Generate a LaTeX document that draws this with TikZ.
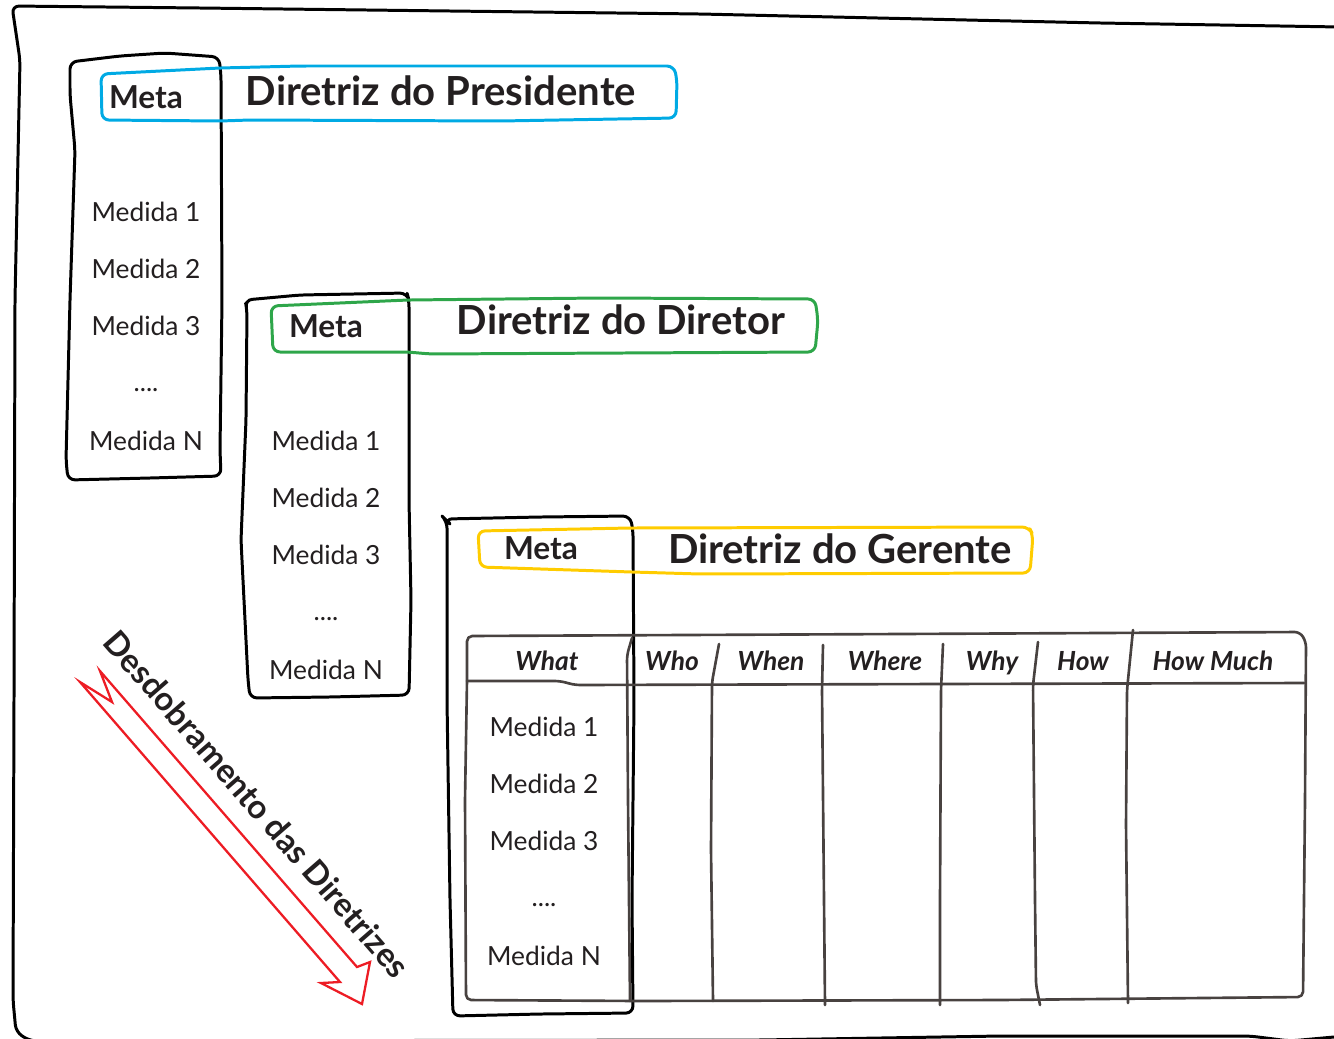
\documentclass[tikz,border=0pt]{standalone}
\usepackage{fontspec}
\setmainfont{Lato}
\definecolor{pres}{RGB}{0,170,228}
\definecolor{dir}{RGB}{46,166,74}
\definecolor{ger}{RGB}{255,204,0}
\definecolor{seta}{RGB}{237,28,36}
\definecolor{ink}{RGB}{35,31,32}
\definecolor{grade}{RGB}{72,66,64}

\begin{document}
\begin{tikzpicture}[x=0.02cm,y=-0.02cm,line cap=round,line join=round,
  sketch/.style={draw=black,line width=1.7pt,rounded corners=4pt},
  grade/.style={draw=grade,line width=1.5pt,rounded corners=3pt},
  medida/.style={font=\fontsize{15}{18}\selectfont,text=ink},
  meta/.style={font=\fontsize{18}{21}\selectfont\bfseries,text=ink},
  titulo/.style={font=\fontsize{22.8}{26}\selectfont\bfseries,text=ink},
  coluna/.style={font=\fontsize{15}{18}\selectfont\bfseries\itshape,text=ink,anchor=base},
  desdob/.style={font=\fontsize{18.8}{22}\selectfont\bfseries,text=ink,rotate=-49}]

\useasboundingbox (0,0) rectangle (1334,1038);

% moldura
\draw[sketch] (1340,27) -- (1100,23) -- (700,14) -- (200,8) -- (12,6) -- (20,60) -- (15,300)
  -- (14,700) -- (13,1000) -- (16,1032) -- (30,1041) -- (760,1040) -- (1000,1036) -- (1250,1036)
  -- (1290,1041) -- (1334,1037);

% presidente
\draw[sketch] (70,62) -- (120,56) -- (165,53) -- (219,57) -- (221,75) -- (222,300) -- (220,450)
  -- (221,476) -- (150,478) -- (68,480) -- (66,460) -- (70,300) -- (75,150) -- (70,95) -- cycle;
\draw[sketch,draw=pres] (101,74) -- (220,68) -- (300,66) -- (674,66) -- (677,80) -- (676,118)
  -- (500,121) -- (250,120) -- (220,121) -- (102,120) -- cycle;

% diretor
\draw[sketch] (245,300) -- (300,295) -- (407,293) -- (409,300) -- (409,500) -- (411,600)
  -- (409,695) -- (330,697) -- (250,698) -- (248,680) -- (245,620) -- (241,540) -- (246,420)
  -- (247,310) -- cycle;
\draw[sketch,draw=dir] (271,306) -- (408,300) -- (600,298) -- (815,299) -- (818,320) -- (815,352)
  -- (430,354) -- (408,352) -- (273,352) -- cycle;

% gerente
\draw[sketch] (445,519) -- (540,517) -- (630,516) -- (633,530) -- (634,700) -- (632,900)
  -- (633,1013) -- (540,1014) -- (453,1016) -- (450,900) -- (447,700) -- (447,521) -- cycle;
\draw[sketch,draw=ger] (478,531) -- (630,528) -- (1029,527) -- (1033,535) -- (1030,573)
  -- (700,574) -- (632,572) -- (480,567) -- cycle;

% 5W2H
\draw[grade] (467,636) -- (900,634) -- (1300,632) -- (1306,642) -- (1305,800) -- (1303,997)
  -- (1000,1000) -- (640,1001) -- (466,1000) -- (465,800) -- (467,680) -- cycle;
\draw[grade] (467,681) -- (560,681) -- (575,685) -- (1304,683);
\draw[grade] (632,638) -- (627,655) -- (628,800) -- (630,1001);
\draw[grade] (719,644) -- (712,682) -- (711,850) -- (713,1001);
\draw[grade] (823,645) -- (822,690) -- (824,900) -- (825,1005);
\draw[grade] (943,644) -- (941,690) -- (940,900) -- (940,1005);
\draw[grade] (1038,642) -- (1033,685) -- (1035,900) -- (1036,985) -- (1040,1005);
\draw[grade] (1133,630) -- (1127,690) -- (1126,825) -- (1128,1003);

% seta
\draw[draw=seta,line width=1.3pt,line join=miter] (80,682) -- (340,982) -- (321,983) -- (362,1004)
  -- (370,962) -- (357,967) -- (100,671) -- (112,702) -- cycle;

\path
(146,97) node[meta] (metaP) {Meta}
(441,91) node[titulo] (dirP) {Diretriz do Presidente}
(146,212) node[medida] (p1) {Medida 1}
(146,269) node[medida] (p2) {Medida 2}
(146,326) node[medida] (p3) {Medida 3}
(146,390) node[medida] (pd) {....}
(146,441) node[medida] (pn) {Medida N}

(326,326) node[meta] (metaD) {Meta}
(621,320) node[titulo] (dirD) {Diretriz do Diretor}
(326,441) node[medida] (d1) {Medida 1}
(326,498) node[medida] (d2) {Medida 2}
(326,555) node[medida] (d3) {Medida 3}
(326,619) node[medida] (dd) {....}
(326,670) node[medida] (dn) {Medida N}

(541,548) node[meta] (metaG) {Meta}
(840,549) node[titulo] (dirG) {Diretriz do Gerente}
(544,727) node[medida] (g1) {Medida 1}
(544,784) node[medida] (g2) {Medida 2}
(544,841) node[medida] (g3) {Medida 3}
(544,905) node[medida] (gd) {....}
(544,956) node[medida] (gn) {Medida N}

(547,670) node[coluna] (what) {What}
(672,670) node[coluna] (who) {Who}
(771,670) node[coluna] (when) {When}
(885,670) node[coluna] (where) {Where}
(992,670) node[coluna] (why) {Why}
(1083,670) node[coluna] (how) {How}
(1213,670) node[coluna] (howmuch) {How Much}

(257,804) node[desdob] (desdob) {Desdobramento das Diretrizes};
\end{tikzpicture}
\end{document}
